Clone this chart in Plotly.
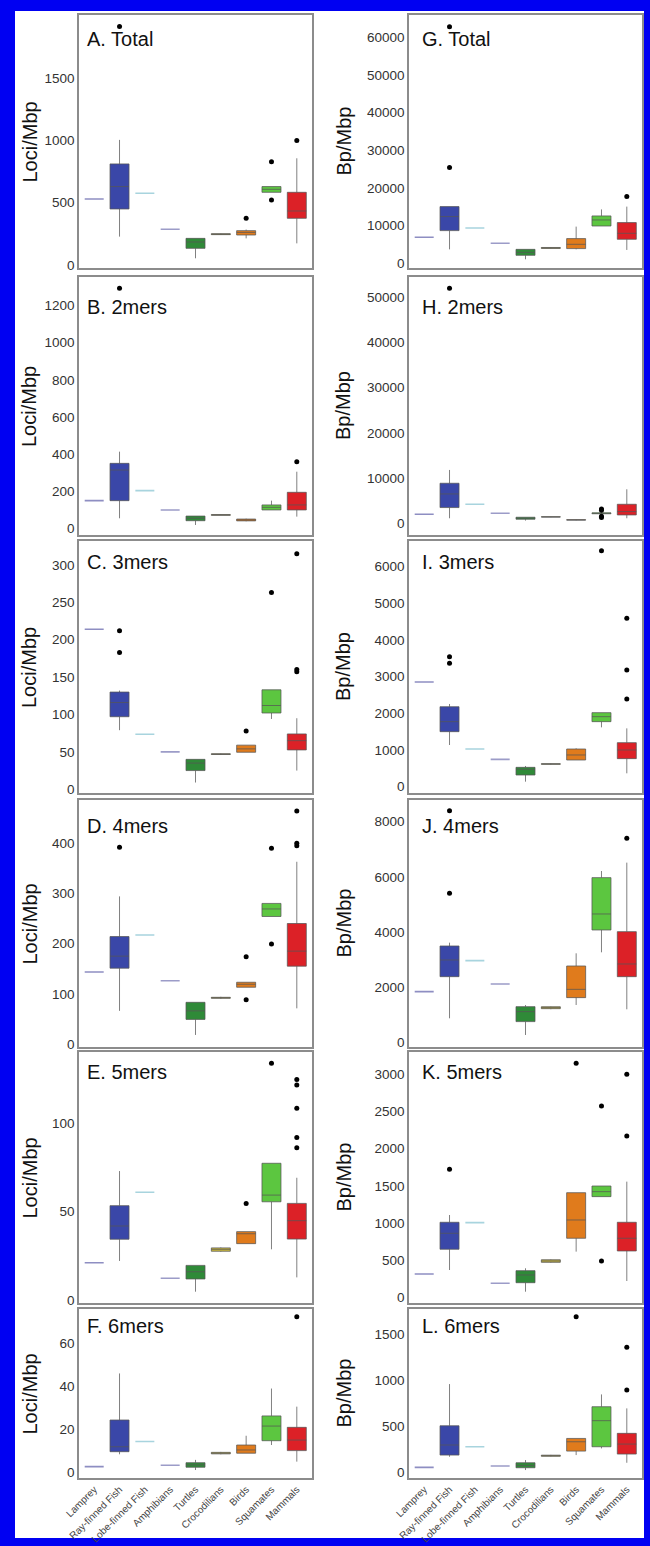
import plotly.graph_objects as go

categories = ["Lamprey", "Ray-finned Fish", "Lobe-finned Fish", "Amphibians",
              "Turtles", "Crocodilians", "Birds", "Squamates", "Mammals"]

# five-number summaries per category: [lower whisker, Q1, median, Q3, upper whisker]
loci_total = [[530]*5, [228, 450, 630, 812, 1005], [576]*5, [287]*5, [54, 134, 185, 214, 214],
              [243, 244, 247, 252, 254], [214, 241, 262, 276, 285], [584, 584, 608, 630, 630],
              [174, 375, 434, 584, 857]]
loci_total_out = [("Ray-finned Fish", 1915), ("Birds", 375), ("Squamates", 830),
                  ("Squamates", 522), ("Mammals", 1000)]

loci_2mers = [[149]*5, [54, 149, 314, 350, 413], [203]*5, [99]*5, [18, 41, 54, 66, 66],
              [70, 70, 72, 74, 75], [38, 40, 45, 50, 52], [99, 99, 113, 126, 149],
              [63, 99, 126, 194, 305]]
loci_2mers_out = [("Ray-finned Fish", 1293), ("Mammals", 359)]

loci_3mers = [[214]*5, [79, 97, 116, 130, 132], [73.5]*5, [50]*5, [9, 25, 35, 40, 40],
              [46, 46.5, 47, 47.5, 48], [49.5, 49.5, 54, 59, 59], [94, 102, 112, 133, 133],
              [25, 52.6, 65, 74, 95]]
loci_3mers_out = [("Ray-finned Fish", 212), ("Ray-finned Fish", 183), ("Birds", 78),
                  ("Squamates", 263), ("Mammals", 160), ("Mammals", 157), ("Mammals", 315)]

loci_4mers = [[143.5]*5, [66, 151, 175, 214, 294], [217]*5, [126]*5, [18, 49, 66, 83, 83],
              [90, 91, 92, 93, 94], [113, 113, 119, 123, 123], [254, 254, 269, 280, 280],
              [71, 155, 185, 240, 363]]
loci_4mers_out = [("Ray-finned Fish", 392), ("Birds", 174), ("Birds", 88), ("Squamates", 390),
                  ("Squamates", 199), ("Mammals", 464), ("Mammals", 400), ("Mammals", 395)]

loci_5mers = [[21.1]*5, [22.1, 34.4, 41.9, 53.4, 73], [61]*5, [12.3]*5, [4.7, 11.9, 16, 19.6, 19.6],
              [27.3, 27.6, 28.7, 29.5, 29.8], [31.9, 31.9, 37.5, 38.7, 38.7],
              [28.7, 55.6, 59.4, 77.4, 77.4], [12.8, 34.5, 44.9, 54.7, 69.2]]
loci_5mers_out = [("Birds", 54.7), ("Squamates", 134), ("Mammals", 124.9), ("Mammals", 121.7),
                  ("Mammals", 108.5), ("Mammals", 92), ("Mammals", 86.2)]

loci_6mers = [[2.8]*5, [8.5, 9.7, 12, 24.4, 46], [14.4]*5, [3.4]*5, [1.2, 2.5, 3.6, 4.6, 5.9],
              [8.5, 8.7, 9, 9.4, 9.6], [9, 9, 10.5, 12.8, 17.1], [12.8, 14.8, 21.6, 26.3, 39],
              [5.1, 10.2, 15.1, 21, 30.6]]
loci_6mers_out = [("Mammals", 72.3)]

bp_total = [[6900]*5, [3700, 8670, 12400, 15040, 15040], [9380]*5, [5300]*5,
            [1060, 2120, 2900, 3700, 3700], [3900, 3950, 4070, 4200, 4250],
            [3700, 3900, 5040, 6550, 9730], [9900, 9900, 11500, 12570, 14300],
            [3540, 6370, 7960, 10800, 15040]]
bp_total_out = [("Ray-finned Fish", 25400), ("Ray-finned Fish", 62800), ("Mammals", 17700)]

bp_2mers = [[1990]*5, [1100, 3470, 6490, 8850, 11800], [4200]*5, [2210]*5,
            [590, 890, 1100, 1330, 1330], [1350, 1380, 1400, 1430, 1450],
            [650, 700, 740, 780, 820], [2000, 2100, 2210, 2300, 2400],
            [1100, 1840, 2580, 4200, 7520]]
bp_2mers_out = [("Ray-finned Fish", 52000), ("Squamates", 3150), ("Squamates", 2850),
                ("Squamates", 1550), ("Squamates", 1250)]

bp_3mers = [[2855]*5, [1136, 1500, 1773, 2180, 2255], [1027]*5, [745]*5,
            [136, 318, 473, 527, 564], [600, 610, 618, 626, 635], [727, 727, 864, 1027, 1045],
            [1618, 1773, 1909, 2018, 2018], [364, 764, 1000, 1200, 1590]]
bp_3mers_out = [("Ray-finned Fish", 3545), ("Ray-finned Fish", 3364), ("Squamates", 6436),
                ("Mammals", 2390), ("Mammals", 3180), ("Mammals", 4590)]

bp_4mers = [[1837]*5, [870, 2380, 2985, 3492, 3613], [2960]*5, [2115]*5,
            [266, 750, 1112, 1293, 1350], [1200, 1220, 1257, 1290, 1300],
            [1353, 1620, 1921, 2767, 3227], [3263, 4073, 4653, 5970, 6211],
            [1196, 2380, 2840, 4012, 6514]]
bp_4mers_out = [("Ray-finned Fish", 5402), ("Ray-finned Fish", 8399), ("Mammals", 7396)]

bp_5mers = [[313]*5, [367, 646, 861, 1009, 1107], [1004]*5, [188]*5, [75, 196, 300, 358, 390],
            [465, 470, 488, 505, 510], [614, 794, 1040, 1407, 1407],
            [1354, 1354, 1421, 1497, 1497], [219, 623, 794, 1009, 1556]]
bp_5mers_out = [("Ray-finned Fish", 1722), ("Birds", 3148), ("Squamates", 2574),
                ("Squamates", 488), ("Mammals", 3000), ("Mammals", 2170)]

bp_6mers = [[58]*5, [173, 191, 300, 508, 959], [281]*5, [72]*5, [29, 54, 79, 108, 137],
            [175, 178, 184, 190, 193], [191, 234, 335, 371, 371], [263, 281, 563, 714, 847],
            [108, 202, 310, 426, 696]]
bp_6mers_out = [("Birds", 1688), ("Mammals", 1356), ("Mammals", 894)]

panel_labels = ["A. Total", "B. 2mers", "C. 3mers", "D. 4mers", "E. 5mers", "F. 6mers",
                "G. Total", "H. 2mers", "I. 3mers", "J. 4mers", "K. 5mers", "L. 6mers"]
y_titles = ["Loci/Mbp"] * 6 + ["Bp/Mbp"] * 6
tick_values = [
    [0, 500, 1000, 1500], [0, 200, 400, 600, 800, 1000, 1200], [0, 50, 100, 150, 200, 250, 300],
    [0, 100, 200, 300, 400], [0, 50, 100], [0, 20, 40, 60],
    [0, 10000, 20000, 30000, 40000, 50000, 60000], [0, 10000, 20000, 30000, 40000, 50000],
    [0, 1000, 2000, 3000, 4000, 5000, 6000], [0, 2000, 4000, 6000, 8000],
    [0, 500, 1000, 1500, 2000, 2500, 3000], [0, 500, 1000, 1500]]

stats_list = [loci_total, loci_2mers, loci_3mers, loci_4mers, loci_5mers, loci_6mers,
              bp_total, bp_2mers, bp_3mers, bp_4mers, bp_5mers, bp_6mers]
outs_list = [loci_total_out, loci_2mers_out, loci_3mers_out, loci_4mers_out, loci_5mers_out,
             loci_6mers_out, bp_total_out, bp_2mers_out, bp_3mers_out, bp_4mers_out,
             bp_5mers_out, bp_6mers_out]

# ---- styling / layout (not data) ----
W, H = 650, 1546
y_ranges = [[-24, 2008], [-36, 1354], [-5, 332], [-6, 486], [-1.7, 140.4], [-2.5, 75.9],
            [-1250, 65900], [-2600, 54500], [-173, 6700], [-170, 8785], [-77, 3300], [-57, 1771]]
col_px = [(79, 312), (409, 642)]
row_px = [(15, 268), (277, 535), (541, 793), (800, 1047), (1052, 1303), (1309, 1478)]
label_y_px = [39, 307, 562, 826, 1072, 1326]
label_dx = [6, 11]
ytitle_x_px = [29, 343]

fill_colors = {"Lamprey": "#8e8ec2", "Ray-finned Fish": "#3a47a8", "Lobe-finned Fish": "#a8d4de",
               "Amphibians": "#9c9cc8", "Turtles": "#2f8a38", "Crocodilians": "#cbb83e",
               "Birds": "#e07b1c", "Squamates": "#5cc640", "Mammals": "#dc2127"}
FONT = "Liberation Sans, Arial, sans-serif"

fig = go.Figure()
layout = dict(width=W, height=H, autosize=False, margin=dict(l=0, r=0, t=0, b=0, pad=0),
              paper_bgcolor="#0000f2", plot_bgcolor="white", showlegend=False,
              font=dict(family=FONT), annotations=[], shapes=[])

layout["shapes"].append(dict(type="rect", xref="paper", yref="paper", x0=15 / W, x1=644 / W,
                             y0=1 - 1538 / H, y1=1 - 11 / H, fillcolor="white",
                             line=dict(width=0), layer="below"))

for p in range(12):
    col, row = divmod(p, 6)
    k = p + 1
    xa = "x" if k == 1 else f"x{k}"
    ya = "y" if k == 1 else f"y{k}"
    x0, x1 = col_px[col]
    top, bot = row_px[row]
    for cat, s in zip(categories, stats_list[p]):
        single = min(s) == max(s)
        fig.add_trace(go.Box(
            x=[cat], lowerfence=[s[0]], q1=[s[1]], median=[s[2]], q3=[s[3]], upperfence=[s[4]],
            xaxis=xa, yaxis=ya, width=0.75, whiskerwidth=0, boxpoints=False,
            fillcolor=fill_colors[cat],
            line=dict(color=fill_colors[cat] if single else "rgba(85,85,85,0.75)",
                      width=1.6 if single else 1),
            name=cat, hoverinfo="y"))
    outs = outs_list[p]
    fig.add_trace(go.Scatter(x=[o[0] for o in outs], y=[o[1] for o in outs], mode="markers",
                             marker=dict(color="black", size=5), xaxis=xa, yaxis=ya,
                             hoverinfo="y"))
    layout["xaxis" if k == 1 else f"xaxis{k}"] = dict(
        domain=[x0 / W, x1 / W], anchor=ya, type="category", categoryorder="array",
        categoryarray=categories, range=[-0.6, 8.6], showgrid=False, zeroline=False,
        showline=True, mirror=True, linecolor="#8c8c8c", linewidth=1.5, ticks="",
        automargin=False, showticklabels=(row == 5), tickangle=-45,
        tickfont=dict(size=10, color="#444", family=FONT))
    layout["yaxis" if k == 1 else f"yaxis{k}"] = dict(
        domain=[1 - bot / H, 1 - top / H], anchor=xa, range=y_ranges[p], tickvals=tick_values[p],
        tickformat="d", showgrid=False, zeroline=False, showline=True, mirror=True,
        linecolor="#8c8c8c", linewidth=1.5, ticks="", automargin=False,
        tickfont=dict(size=13.5, color="#333", family=FONT))
    layout["annotations"].append(dict(
        text=panel_labels[p], xref="paper", yref="paper", x=(x0 + label_dx[col]) / W,
        y=1 - label_y_px[row] / H, xanchor="left", yanchor="middle", showarrow=False,
        font=dict(size=20, color="#111", family=FONT)))
    layout["annotations"].append(dict(
        text=y_titles[p], xref="paper", yref="paper", x=ytitle_x_px[col] / W,
        y=1 - (top + bot) / 2 / H, xanchor="center", yanchor="middle", textangle=-90,
        showarrow=False, font=dict(size=20, color="#111", family=FONT)))

fig.update_layout(**layout)
fig.write_html("out.html", config={"displayModeBar": False},
               post_script="document.body.style.margin='0';document.body.style.overflow='hidden';")
